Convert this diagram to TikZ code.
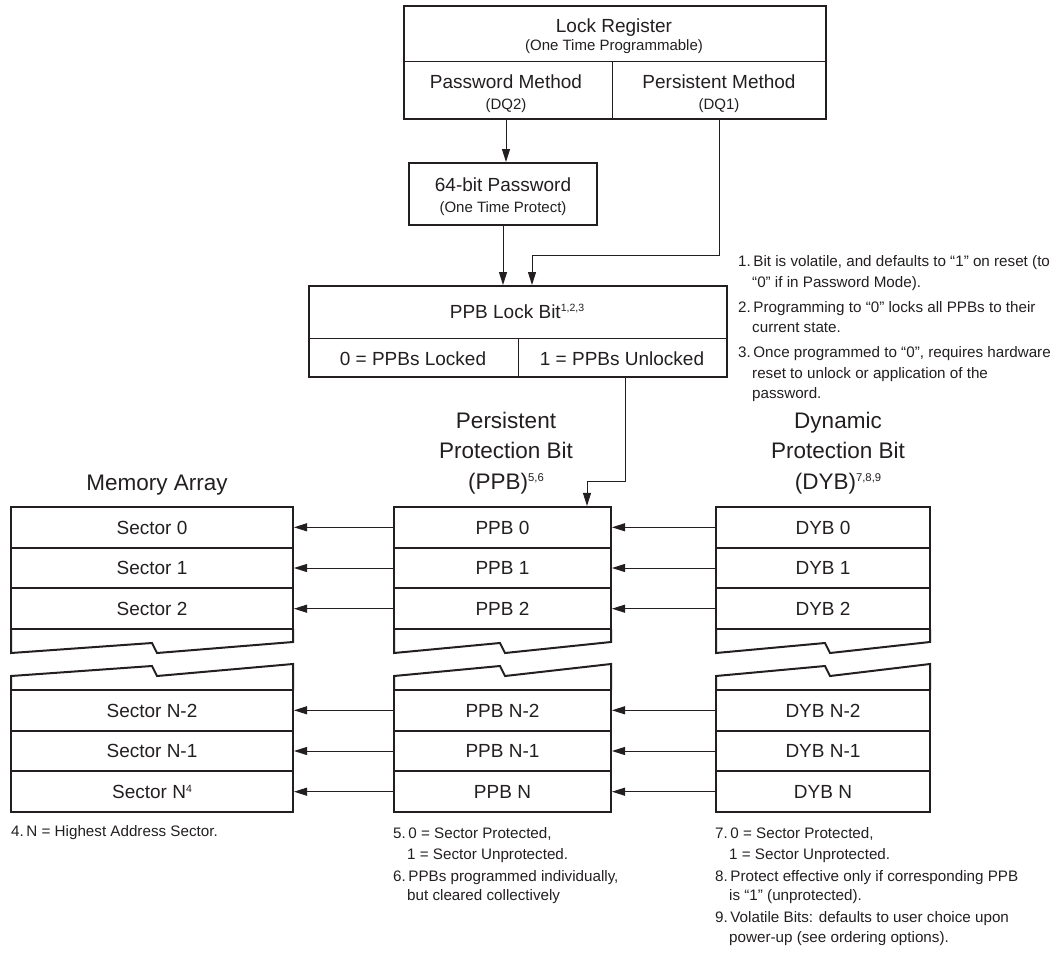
\documentclass[tikz,border=0pt]{standalone}
\usepackage{fontspec}
\setmainfont{Liberation Sans}
\usetikzlibrary{arrows.meta,calc}
\definecolor{ink}{HTML}{231F20}

\newcommand{\fs}[1]{\fontsize{#1}{#1}\selectfont}
% raised superscript: raise (pt), size (pt), text
\newcommand{\supr}[3]{\raisebox{#1pt}{\fs{#2}#3}}
% torn edge between the upper and lower part of a column: left x, notch x, right x
\newcommand{\tornedge}[3]{%
  \draw[frame] (#1,629) -- (#1,653) -- (#2,643) -- (#2+5,653) -- (#3,642) -- (#3,629);
  \draw[frame] (#1,690) -- (#1,676) -- (#2,666) -- (#2+5,676) -- (#3,664) -- (#3,690);}

\begin{document}
\begin{tikzpicture}[x=1pt,y=-1pt,
  frame/.style={draw=ink, line width=2pt},
  divider/.style={draw=ink, line width=1.1pt},
  cell/.style={inner sep=0pt},
  big/.style={text=ink, font={\fs{19}}, inner sep=0pt, anchor=base},
  small/.style={text=ink, font={\fs{15}}, inner sep=0pt, anchor=base},
  head/.style={text=ink, font={\fs{22.5}}, inner sep=0pt, anchor=base},
  note/.style={text=ink, font={\fs{15.2}}, inner sep=0pt, anchor=base west},
  rowbox/.style={draw=ink, line width=2pt, inner sep=0pt, minimum height=40.7pt,
    text height=13.6pt, text depth=0pt, text=ink, font={\fs{19}}},
  memrow/.style={rowbox, minimum width=282pt},
  ppbrow/.style={rowbox, minimum width=217pt},
  dybrow/.style={rowbox, minimum width=214pt},
  arr/.style={draw=ink, line width=1pt, -{Triangle[length=13pt,width=8pt]}}
]
\useasboundingbox (0,0) rectangle (1058,953);

% ---------- Lock register ----------
\node[frame, cell, minimum width=422pt, minimum height=113pt] (lr) at (615,62.5) {};
\node[cell, minimum width=208pt, minimum height=57pt] (pm) at (508,90.5) {};
\node[cell, minimum width=214pt, minimum height=57pt] (ps) at (719,90.5) {};
\draw[divider] (lr.west |- pm.north) -- (lr.east |- pm.north);
\draw[divider] (pm.north east) -- (pm.south east);
\node[big]   (lrT) at (614,32)  {Lock Register};
\node[small] (lrS) at (614,50)  {(One Time Programmable)};
\node[big]   (pmT) at (506,88)  {Password Method};
\node[small] (pmS) at (506,109) {(DQ2)};
\node[big]   (psT) at (719,88)  {Persistent Method};
\node[small] (psS) at (719,109) {(DQ1)};

% ---------- 64-bit password ----------
\node[frame, cell, minimum width=188pt, minimum height=62pt] (pw) at (503,194) {};
\node[big]   (pwT) at (503,191) {64-bit Password};
\node[small] (pwS) at (503,212) {(One Time Protect)};

% ---------- PPB lock bit ----------
\node[frame, cell, minimum width=418pt, minimum height=91pt] (lb) at (518,331.5) {};
\node[cell, minimum width=209pt, minimum height=38pt] (lk) at (413.5,358) {};
\node[cell, minimum width=209pt, minimum height=38pt] (un) at (622.5,358) {};
\draw[divider] (lb.west |- lk.north) -- (lb.east |- lk.north);
\draw[divider] (lk.north east) -- (lk.south east);
\node[big] (lbT) at (517,318) {PPB Lock Bit\supr{6.5}{10.5}{1,2,3}};
\node[big] (lkT) at (413,365) {0 = PPBs Locked};
\node[big] (unT) at (622,365) {1 = PPBs Unlocked};

% ---------- connectors of the lock logic ----------
\draw[arr] ([xshift=-2pt]pm.south) -- ([xshift=-2pt]pm.south |- pw.north);
\draw[arr] (pw.south) -- (pw.south |- lb.north);
\coordinate (lbin) at (532,255);
\draw[arr] (ps.south) |- (lbin) -- (lbin |- lb.north);

% ---------- column headings ----------
\node[head] (hm)  at (157,490)   {Memory Array};
\node[head] (hp1) at (506,428)   {Persistent};
\node[head] (hp2) at (506,458.5) {Protection Bit};
\node[head] (hp3) at (506,489)   {(PPB)\supr{8}{11.3}{5,6}};
\node[head] (hd1) at (838,428)   {Dynamic};
\node[head] (hd2) at (838,458.5) {Protection Bit};
\node[head] (hd3) at (838,489)   {(DYB)\supr{8}{11.3}{7,8,9}};

% ---------- memory array ----------
\node[memrow] (m0)  at (152,527.3) {Sector 0};
\node[memrow] (m1)  at (152,568)   {Sector 1};
\node[memrow] (m2)  at (152,608.7) {Sector 2};
\node[memrow] (mn2) at (152,710.3) {Sector N-2};
\node[memrow] (mn1) at (152,751)   {Sector N-1};
\node[memrow] (mn)  at (152,791.7) {Sector N\supr{6.5}{10.5}{4}};

% ---------- persistent protection bits ----------
\node[ppbrow] (p0)  at (502.5,527.3) {PPB 0};
\node[ppbrow] (p1)  at (502.5,568)   {PPB 1};
\node[ppbrow] (p2)  at (502.5,608.7) {PPB 2};
\node[ppbrow] (pn2) at (502.5,710.3) {PPB N-2};
\node[ppbrow] (pn1) at (502.5,751)   {PPB N-1};
\node[ppbrow] (pn)  at (502.5,791.7) {PPB N};

% ---------- dynamic protection bits ----------
\node[dybrow] (d0)  at (823,527.3) {DYB 0};
\node[dybrow] (d1)  at (823,568)   {DYB 1};
\node[dybrow] (d2)  at (823,608.7) {DYB 2};
\node[dybrow] (dn2) at (823,710.3) {DYB N-2};
\node[dybrow] (dn1) at (823,751)   {DYB N-1};
\node[dybrow] (dn)  at (823,791.7) {DYB N};

\tornedge{11}{152}{293}
\tornedge{394}{500}{611}
\tornedge{716}{825}{930}

% ---------- lock bit feeds the PPB column ----------
\coordinate (ppbin) at (587,481);
\draw[arr] ([xshift=3pt]un.south) |- (ppbin) -- (ppbin |- p0.north);

% ---------- row connectors ----------
\foreach \a in {0, 1, 2, n2, n1, n}{
  \draw[arr] (d\a.west) -- (p\a.east);
  \draw[arr] (p\a.west) -- (m\a.east);
}

% ---------- notes ----------
\node[note] (n1a) at (738,266.5) {1.\,Bit is volatile, and defaults to “1” on reset (to};
\node[note] (n1b) at (752,287)   {“0” if in Password Mode).};
\node[note] (n2a) at (738,312)   {2.\,Programming to “0” locks all PPBs to their};
\node[note] (n2b) at (752,332.5) {current state.};
\node[note] (n3a) at (738,357.5) {3.\,Once programmed to “0”, requires hardware};
\node[note] (n3b) at (752,378)   {reset to unlock or application of the};
\node[note] (n3c) at (752,398.5) {password.};

\node[note] (n4)  at (11,836)  {4.\,N = Highest Address Sector.};

\node[note] (n5a) at (393,838) {5.\,0 = Sector Protected,};
\node[note] (n5b) at (407,859) {1 = Sector Unprotected.};
\node[note] (n6a) at (393,881) {6.\,PPBs programmed individually,};
\node[note] (n6b) at (407,900) {but cleared collectively};

\node[note] (n7a) at (715,838) {7.\,0 = Sector Protected,};
\node[note] (n7b) at (729,859) {1 = Sector Unprotected.};
\node[note] (n8a) at (715,881) {8.\,Protect effective only if corresponding PPB};
\node[note] (n8b) at (729,900) {is “1” (unprotected).};
\node[note] (n9a) at (715,922) {9.\,Volatile Bits: defaults to user choice upon};
\node[note] (n9b) at (729,942) {power-up (see ordering options).};
\end{tikzpicture}
\end{document}
